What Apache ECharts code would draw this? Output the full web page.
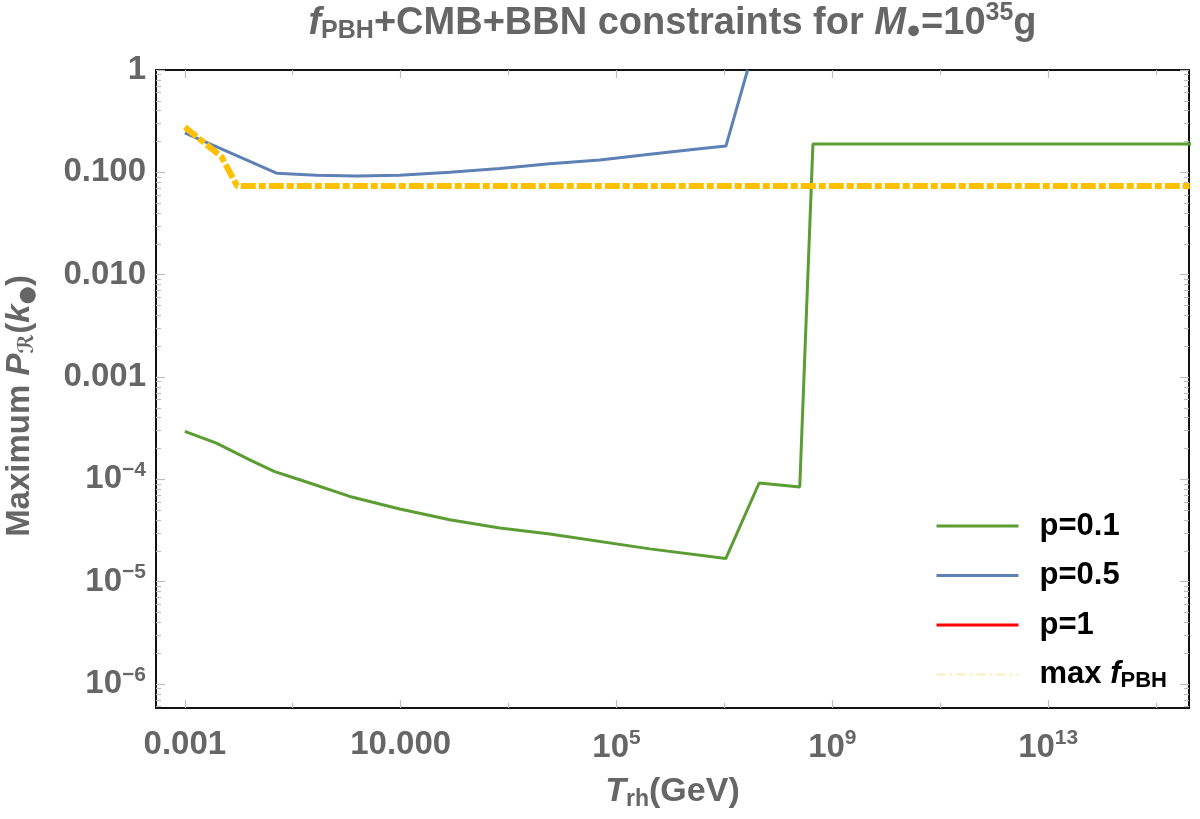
<!DOCTYPE html>
<html><head><meta charset="utf-8">
<script src="https://cdn.jsdelivr.net/npm/echarts@6/dist/echarts.min.js"></script>
<style>html,body{margin:0;padding:0;background:#fff}#c{width:1200px;height:819px}</style>
</head><body><div id="c"></div>
<script>
// ---- data ----
// p = 0.1
const trhP01 = [0.001, 0.00385, 0.0160, 0.0463, 0.135, 1.14, 9.64, 81.3, 687, 5810, 4.14e5, 1.06e7, 4.40e7, 2.49e8, 4.37e8, 1e16];
const pP01   = [2.94e-4, 2.26e-4, 1.55e-4, 1.19e-4, 9.9e-5, 6.8e-5, 5.13e-5, 4.03e-5, 3.34e-5, 2.92e-5, 2.09e-5, 1.68e-5, 9.2e-5, 8.4e-5, 0.189, 0.189];
// p = 0.5
const trhP05 = [0.001, 0.0501, 0.275, 1.51, 9.55, 81.3, 692, 5750, 4.90e4, 4.17e5, 3.47e6, 1.07e7, 2.69e7];
const pP05   = [0.243, 0.098, 0.0937, 0.0922, 0.0937, 0.100, 0.109, 0.121, 0.132, 0.150, 0.170, 0.181, 1.0];
// p = 1 (no curve visible inside the plotted range)
const trhP1 = [];
const pP1   = [];
// max f_PBH
const trhMax = [0.001, 0.00479, 0.0093, 1e16];
const pMax   = [0.277, 0.142, 0.0736, 0.0736];

// ---- axes ----
const xRange = [10 ** -3.534, 10 ** 15.61];
const yRange = [10 ** -6.235, 1];
const xTickValues = [1e-3, 10, 1e5, 1e9, 1e13];
const xTickLabels = ['0.001', '10.000', '10{s|5}', '10{s|9}', '10{s|13}'];
const xMinorValues = [0.1, 1e3, 1e7, 1e11, 1e15];
const yTickValues = [1, 0.1, 0.01, 0.001, 1e-4, 1e-5, 1e-6];
const yTickLabels = ['1', '0.100', '0.010', '0.001', '10{s|\u22124}', '10{s|\u22125}', '10{s|\u22126}'];
const seriesNames = ['p=0.1', 'p=0.5', 'p=1', 'max fPBH'];
const seriesColors = ['#5b9c33', '#5e81b5', '#ff0000', '#ffc000'];

const L = v => Math.log10(v);
const pairs = (xs, ys) => xs.map((x, i) => [L(x), L(ys[i])]);

const FONT = "'Liberation Sans', Arial, sans-serif";
const GRAY = '#666666';
const FRAME = '#111111';
const TICK = '#bdbdbd';

const yMinorValues = [];
for (let n = -7; n <= 0; n++) for (let k = 2; k <= 9; k++) {
  const v = k * 10 ** n; if (v > yRange[0] && v < yRange[1]) yMinorValues.push(v);
}

const lblRich = {
  s: { fontSize: 21, fontWeight: 'bold', color: GRAY, fontFamily: FONT, padding: [0, 0, 18, 0] }
};
function fmt(values, labels) {
  return function (v) {
    for (let i = 0; i < values.length; i++) if (Math.abs(L(values[i]) - v) < 1e-6) return labels[i];
    return '';
  };
}
function axis(dim, position, opts) {
  const ext = dim === 'x' ? xRange : yRange;
  return Object.assign({
    type: 'value', position: position, min: L(ext[0]), max: L(ext[1]),
    splitLine: { show: false },
    axisLine: { show: false, onZero: false },
    axisTick: { show: false },
    axisLabel: { show: false },
    axisPointer: { show: false }
  }, opts);
}
function ticks(values, len) {
  return { show: true, inside: true, length: len, customValues: values.map(L), lineStyle: { color: TICK, width: 1.2 } };
}
const frameLine = { show: true, onZero: false, lineStyle: { color: FRAME, width: 2 } };

const GRID = { left: 156, top: 70, width: 1033, height: 638 };

const option = {
  animation: false,
  backgroundColor: '#ffffff',
  title: {
    text: '{i|f}{sub|PBH}+CMB+BBN constraints for {i|M}{sub|\u25CF}=10{sup|35}g',
    left: GRID.left + GRID.width / 2, top: 1, textAlign: 'center', padding: 0,
    textStyle: {
      fontFamily: FONT, fontSize: 38, fontWeight: 'bold', color: GRAY,
      rich: {
        i: { fontFamily: FONT, fontSize: 38, fontWeight: 'bold', fontStyle: 'italic', color: GRAY },
        sub: { fontFamily: FONT, fontSize: 25, fontWeight: 'bold', color: GRAY, padding: [16, 0, 0, 0] },
        sup: { fontFamily: FONT, fontSize: 25, fontWeight: 'bold', color: GRAY, padding: [0, 0, 20, 0] }
      }
    }
  },
  grid: Object.assign({ outerBoundsMode: 'none', containLabel: false }, GRID),
  legend: {
    orient: 'vertical', left: 935, top: 509, padding: 0,
    itemWidth: 82, itemHeight: 20, itemGap: 15.5, selectedMode: false,
    itemStyle: { opacity: 0, color: 'rgba(0,0,0,0)', borderWidth: 0 },
    data: [
      { name: seriesNames[0], lineStyle: { width: 3 } },
      { name: seriesNames[1], lineStyle: { width: 3 } },
      { name: seriesNames[2], lineStyle: { width: 3 } },
      { name: seriesNames[3], lineStyle: { color: '#fde7a6', width: 2, type: [9, 4, 3, 4], opacity: 0.8 } }
    ],
    formatter: n => n === 'max fPBH' ? 'max {i|f}{sub|PBH}' : n,
    textStyle: {
      fontFamily: FONT, fontSize: 31, fontWeight: 'bold', color: '#000', lineHeight: 34, padding: [0, 0, 0, 16],
      rich: {
        i: { fontFamily: FONT, fontSize: 31, fontWeight: 'bold', fontStyle: 'italic', color: '#000' },
        sub: { fontFamily: FONT, fontSize: 22, fontWeight: 'bold', color: '#000', padding: [12, 0, 0, 0] }
      }
    }
  },
  xAxis: [
    axis('x', 'bottom', {
      axisLine: frameLine, axisTick: ticks(xTickValues, 8),
      axisLabel: {
        show: true, customValues: xTickValues.map(L), formatter: fmt(xTickValues, xTickLabels),
        margin: 20, color: GRAY, fontFamily: FONT, fontSize: 33, fontWeight: 'bold', rich: lblRich
      },
      name: '{i|T}{sub|rh}(GeV)', nameLocation: 'middle', nameGap: 64,
      nameTextStyle: {
        fontFamily: FONT, fontSize: 34, fontWeight: 'bold', color: GRAY,
        rich: {
          i: { fontFamily: FONT, fontSize: 34, fontWeight: 'bold', fontStyle: 'italic', color: GRAY },
          sub: { fontFamily: FONT, fontSize: 23, fontWeight: 'bold', color: GRAY, padding: [16, 0, 0, 0] }
        }
      }
    }),
    axis('x', 'bottom', { axisTick: ticks(xMinorValues, 5) }),
    axis('x', 'top', { axisLine: frameLine, axisTick: ticks(xTickValues, 8) }),
    axis('x', 'top', { axisTick: ticks(xMinorValues, 5) })
  ],
  yAxis: [
    axis('y', 'left', {
      axisLine: frameLine, axisTick: ticks(yTickValues, 9),
      axisLabel: {
        show: true, customValues: yTickValues.map(L), formatter: fmt(yTickValues, yTickLabels),
        margin: 10, color: GRAY, fontFamily: FONT, fontSize: 33, fontWeight: 'bold', rich: lblRich
      },
      name: 'Maximum {i|P}{sub|\u211B}({i|k}{sub|\u25CF})', nameLocation: 'middle', nameGap: 118, nameRotate: 90,
      nameTextStyle: {
        fontFamily: FONT, fontSize: 33, fontWeight: 'bold', color: GRAY, padding: [0, 34, 0, 0],
        rich: {
          i: { fontFamily: FONT, fontSize: 33, fontWeight: 'bold', fontStyle: 'italic', color: GRAY },
          sub: { fontFamily: "'DejaVu Sans', " + FONT, fontSize: 21, fontWeight: 'bold', color: GRAY, padding: [15, 0, 0, 0] }
        }
      }
    }),
    axis('y', 'left', { axisTick: ticks(yMinorValues, 5) }),
    axis('y', 'right', { axisLine: frameLine, axisTick: ticks(yTickValues, 9) }),
    axis('y', 'right', { axisTick: ticks(yMinorValues, 5) })
  ],
  series: [
    { name: seriesNames[0], type: 'line', data: pairs(trhP01, pP01), color: seriesColors[0],
      lineStyle: { color: seriesColors[0], width: 3 } },
    { name: seriesNames[1], type: 'line', data: pairs(trhP05, pP05), color: seriesColors[1],
      lineStyle: { color: seriesColors[1], width: 3 } },
    { name: seriesNames[2], type: 'line', data: pairs(trhP1, pP1), color: seriesColors[2],
      lineStyle: { color: seriesColors[2], width: 3 } },
    { name: seriesNames[3], type: 'line', data: pairs(trhMax, pMax), color: seriesColors[3],
      lineStyle: { color: seriesColors[3], width: 6, type: [15, 3, 7, 3] } }
  ].map(s => Object.assign({ symbol: 'none', showSymbol: false, clip: true, xAxisIndex: 0, yAxisIndex: 0, emphasis: { disabled: true } }, s))
};

const chart = echarts.init(document.getElementById('c'), null, { renderer: 'canvas' });
chart.setOption(option);
</script>
</body></html>
